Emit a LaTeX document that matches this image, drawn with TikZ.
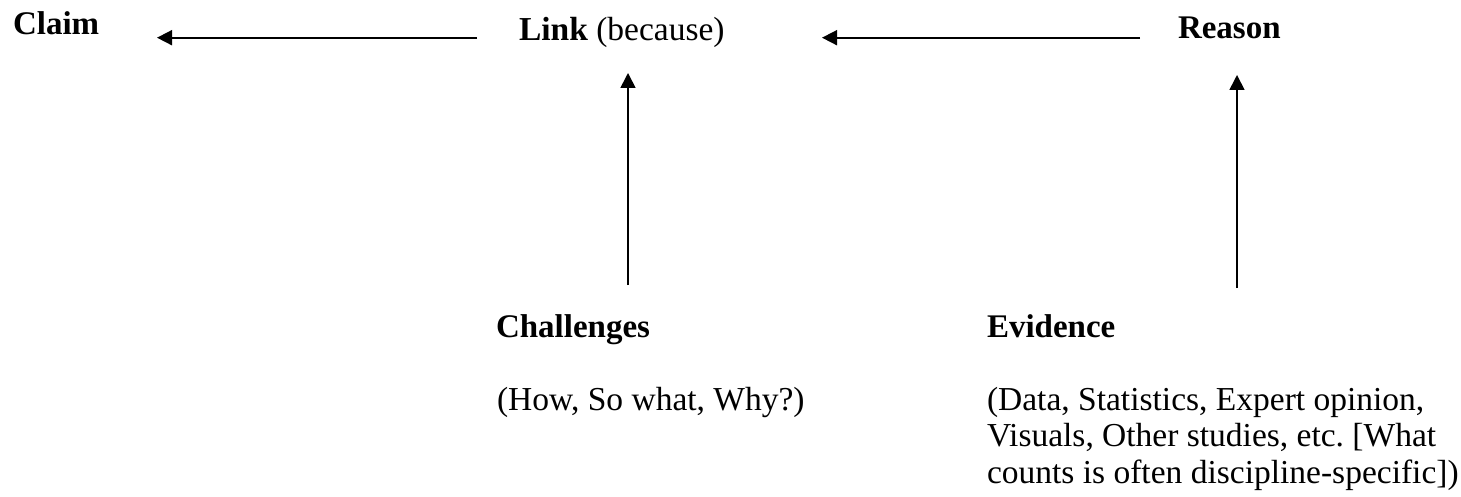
\documentclass[tikz,border=0pt]{standalone}
\usepackage{fontspec}
\setmainfont{Liberation Serif}
\usetikzlibrary{arrows.meta,calc}
\frenchspacing
\tikzset{
  txt/.style={anchor=base west, inner sep=0pt, outer sep=0pt, font=\fontsize{33.5}{36.5}\selectfont},
  bold/.style={txt, font=\fontsize{33}{36.5}\selectfont\bfseries},
  arr/.style={line width=1.7pt, -{Triangle[length=15pt,width=15pt]}}
}
\begin{document}
\begin{tikzpicture}[x=1pt,y=-1pt]
\useasboundingbox (0,0) rectangle (1461,497);
\node[bold] (claim) at (13,35) {Claim};
\node[txt] (link) at (519,40.7) {\textbf{Link} (because)};
\node[bold] (reason) at (1178,38.3) {Reason};
\node[bold] (chal) at (496,337) {Challenges};
\node[txt] (how) at (497,410) {(How, So what, Why?)};
\node[bold] (evid) at (987,337) {Evidence};
\node[txt] (ev1) at (987,410) {(Data, Statistics, Expert opinion,};
\node[txt] (ev2) at (987,446.7) {Visuals, Other studies, etc.\ [What};
\node[txt] (ev3) at (987,483.3) {counts is often discipline-specific])};
\draw[arr] ($(link.base west)+(-42,-3)$) -- ($(claim.base west)+(144,2.7)$);
\draw[arr] ($(reason.base west)+(-38,-0.6)$) -- ($(link.base west)+(303,-3)$);
\draw[arr] ($(chal.base west)+(132,-52)$) -- ($(link.base west)+(109,32.3)$);
\draw[arr] ($(evid.base west)+(250,-49)$) -- ($(reason.base west)+(59,36.7)$);
\end{tikzpicture}
\end{document}
